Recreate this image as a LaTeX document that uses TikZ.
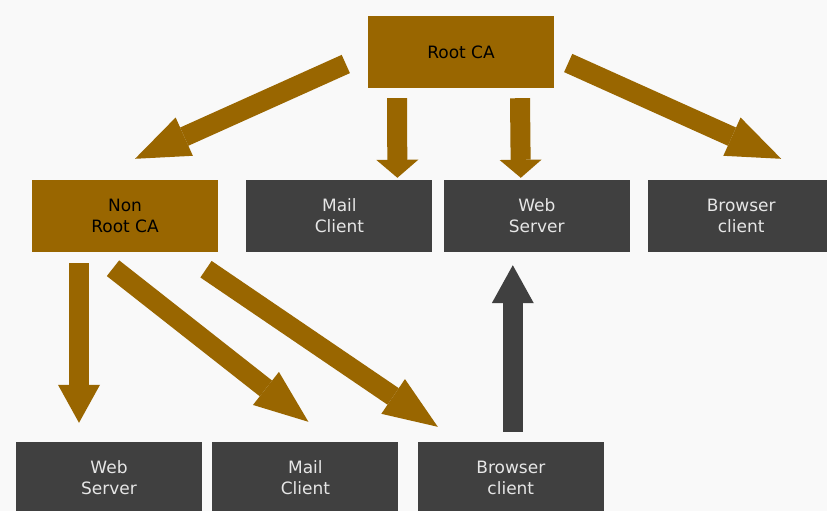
\documentclass[tikz,border=0pt]{standalone}
\usepackage{fontspec}
\setmainfont{DejaVu Sans}
\usetikzlibrary{positioning,arrows.meta}

\definecolor{cabrown}{HTML}{996600}
\definecolor{hostgrey}{HTML}{404040}
\definecolor{hosttext}{HTML}{E6E6E6}
\definecolor{bgcol}{HTML}{F9F9F9}

\tikzset{
  cabox/.style={rectangle, fill=cabrown, text=black, minimum width=186pt, minimum height=72pt, inner sep=0pt, align=center, font=\fontsize{17}{21}\selectfont},
  hostbox/.style={cabox, fill=hostgrey, text=hosttext},
  arr/.style={line width=20pt, color=cabrown, -{Triangle[width=42pt, length=#1, line width=0pt]}},
  arr/.default=54pt
}

\begin{document}
\begin{tikzpicture}[x=1pt, y=-1pt]
  \clip (0,0) rectangle (827,511);
  \fill[bgcol] (0,0) rectangle (827,511);

  \node[cabox] (root) at (461,52) {Root CA};
  \node[cabox] (nonroot) at (125,216) {Non\\Root CA};
  \node[hostbox, right=28pt of nonroot] (mailtop) {Mail\\Client};
  \node[hostbox, right=11pt of mailtop] (webtop) {Web\\Server};
  \node[hostbox, right=18pt of webtop] (browsertop) {Browser\\client};

  \node[hostbox] (webbot) at (109,478) {Web\\Server};
  \node[hostbox, right=10pt of webbot] (mailbot) {Mail\\Client};
  \node[hostbox, right=19pt of mailbot] (browserbot) {Browser\\client};

  \draw[arr] ([shift={(-22,12)}]root.west) -- ([shift={(10,-21)}]nonroot.north);
  \draw[arr=18pt] ([shift={(-64,10)}]root.south) -- ([shift={(58,-2)}]mailtop.north);
  \draw[arr=18pt] ([shift={(59,10)}]root.south) -- ([shift={(-16,-2)}]webtop.north);
  \draw[arr] ([shift={(14,11)}]root.east) -- ([shift={(40,-21)}]browsertop.north);

  \draw[arr=38pt] ([shift={(-46,11)}]nonroot.south) -- ([shift={(-30,-19)}]webbot.north);
  \draw[arr] ([shift={(-12,16)}]nonroot.south) -- ([shift={(3,-20)}]mailbot.north);
  \draw[arr] ([shift={(81,17)}]nonroot.south) -- ([shift={(-73,-15)}]browserbot.north);
  \draw[arr=38pt, color=hostgrey] ([shift={(2,-10)}]browserbot.north) -- ([shift={(-24,13)}]webtop.south);
\end{tikzpicture}
\end{document}
